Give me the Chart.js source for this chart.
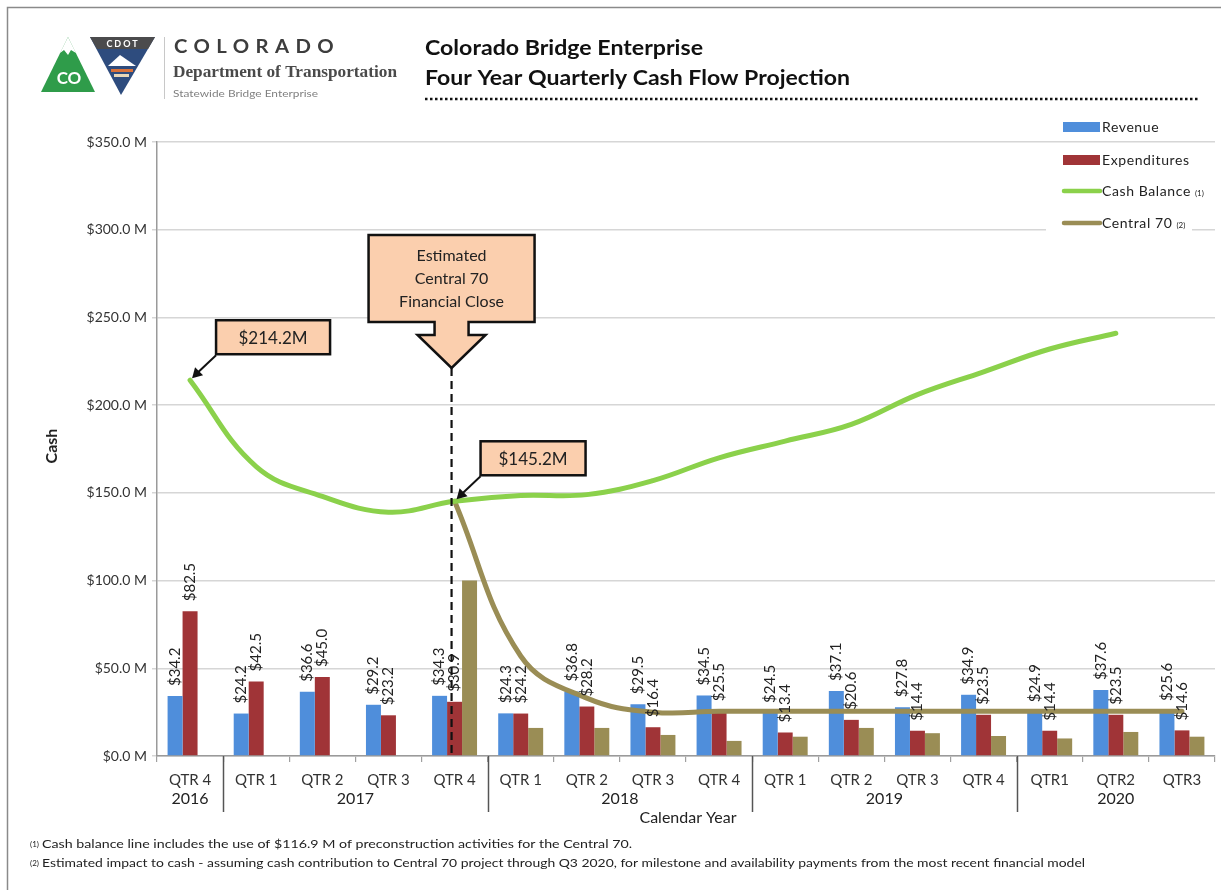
<!DOCTYPE html>
<html>
<head>
<meta charset="utf-8">
<script src="https://cdn.jsdelivr.net/npm/chart.js@4.4.0/dist/chart.umd.min.js"></script>
<style>
  body { margin: 0; background: #fff; }
  canvas { display: block; }
</style>
</head>
<body>
<canvas id="chart" width="1221" height="890"></canvas>
<script>
const quarterLabels = ["QTR 4", "QTR 1", "QTR 2", "QTR 3", "QTR 4", "QTR 1", "QTR 2", "QTR 3", "QTR 4", "QTR 1", "QTR 2", "QTR 3", "QTR 4", "QTR1", "QTR2", "QTR3"];
const yearOfQuarter = ["2016", "2017", "2017", "2017", "2017", "2018", "2018", "2018", "2018", "2019", "2019", "2019", "2019", "2020", "2020", "2020"];

const revenue = [34.2, 24.2, 36.6, 29.2, 34.3, 24.3, 36.8, 29.5, 34.5, 24.5, 37.1, 27.8, 34.9, 24.9, 37.6, 25.6];
const expenditures = [82.5, 42.5, 45.0, 23.2, 30.9, 24.2, 28.2, 16.4, 25.5, 13.4, 20.6, 14.4, 23.5, 14.4, 23.5, 14.6];
const central70Bars = [null, null, null, null, 100, 16, 16, 12, 8.6, 11, 16, 13, 11.4, 10, 13.7, 11];
const cashBalance = [214.2, 165, 148, 139, 145.2, 148.5, 149, 157, 170, 179.5, 189, 206, 219, 232, 241, null];
const central70Line = [null, null, null, null, 145.2, 57, 33, 25, 25.5, 25.5, 25.5, 25.5, 25.5, 25.5, 25.5, 25.5];

const callouts = [
  { index: 0, text: "$214.2M" },
  { index: 4, text: "$145.2M" }
];
const closeIndex = 4;
const closeText = ["Estimated", "Central 70", "Financial Close"];

const blue = "#4f8edb";
const red = "#a03437";
const green = "#8bd14b";
const olive = "#9a8d55";
const peach = "#fbcfae";
const font = "Lato, 'Open Sans', sans-serif";

// draw text squeezed/stretched to a given width
function fitText(ctx, text, x, y, width) {
  const w = ctx.measureText(text).width;
  ctx.save();
  ctx.translate(x, y);
  ctx.scale(width / w, 1);
  ctx.fillText(text, 0, 0);
  ctx.restore();
}

function drawLogo(ctx) {
  // green CO triangle
  ctx.fillStyle = "#2f9c4a";
  ctx.beginPath();
  ctx.moveTo(68, 37); ctx.lineTo(95, 92); ctx.lineTo(41, 92); ctx.closePath();
  ctx.fill();
  ctx.fillStyle = "#fff";
  ctx.beginPath();
  ctx.moveTo(68, 37); ctx.lineTo(76, 53); ctx.lineTo(71, 50); ctx.lineTo(68, 55); ctx.lineTo(64, 50); ctx.lineTo(60, 53); ctx.closePath();
  ctx.fill();
  ctx.font = "bold 17px " + font;
  ctx.textAlign = "center";
  ctx.textBaseline = "alphabetic";
  ctx.fillText("CO", 69, 84);

  // CDOT inverted triangle
  ctx.fillStyle = "#2e4c7e";
  ctx.beginPath();
  ctx.moveTo(90, 37); ctx.lineTo(155, 37); ctx.lineTo(121, 95); ctx.closePath();
  ctx.fill();
  ctx.fillStyle = "#4b4b4d";
  ctx.beginPath();
  ctx.moveTo(90, 37); ctx.lineTo(155, 37); ctx.lineTo(148, 49); ctx.lineTo(97, 49); ctx.closePath();
  ctx.fill();
  ctx.fillStyle = "#fff";
  ctx.font = "bold 9px " + font;
  ctx.save();
  ctx.letterSpacing = "2px";
  ctx.fillText("CDOT", 123, 47);
  ctx.restore();
  ctx.beginPath();
  ctx.moveTo(108, 66); ctx.lineTo(120, 55); ctx.lineTo(136, 66); ctx.closePath();
  ctx.fill();
  ctx.fillStyle = "#d9713a";
  ctx.fillRect(111, 69, 22, 3);
  ctx.fillStyle = "#e8d7b8";
  ctx.fillRect(114, 74, 15, 3);

  ctx.strokeStyle = "#c8c8c8";
  ctx.lineWidth = 1;
  ctx.beginPath();
  ctx.moveTo(164.5, 37); ctx.lineTo(164.5, 99);
  ctx.stroke();
}

const pagePlugin = {
  id: "page",
  beforeDraw(chart) {
    const ctx = chart.ctx;
    ctx.save();
    ctx.fillStyle = "#fff";
    ctx.fillRect(0, 0, chart.width, chart.height);
    ctx.strokeStyle = "#8a8a8a";
    ctx.lineWidth = 1.5;
    ctx.strokeRect(7.5, 7.5, 1400, 1000);

    drawLogo(ctx);

    ctx.textAlign = "left";
    ctx.textBaseline = "alphabetic";
    ctx.fillStyle = "#3d3d3d";
    ctx.font = "bold 19px " + font;
    ctx.letterSpacing = "6px";
    fitText(ctx, "COLORADO", 174, 53, 166);
    ctx.letterSpacing = "0px";
    ctx.fillStyle = "#4a4a4a";
    ctx.font = "bold 16px 'Liberation Serif', serif";
    fitText(ctx, "Department of Transportation", 173, 77, 224);
    ctx.fillStyle = "#808080";
    ctx.font = "10px " + font;
    fitText(ctx, "Statewide Bridge Enterprise", 173, 97, 145);

    ctx.fillStyle = "#111";
    ctx.font = "bold 20px " + font;
    fitText(ctx, "Colorado Bridge Enterprise", 425, 55, 278);
    fitText(ctx, "Four Year Quarterly Cash Flow Projection", 425, 85, 425);
    ctx.strokeStyle = "#111";
    ctx.lineWidth = 2.5;
    ctx.setLineDash([2.5, 2.5]);
    ctx.beginPath();
    ctx.moveTo(425, 99); ctx.lineTo(1200, 99);
    ctx.stroke();
    ctx.restore();
  },
  afterDatasetsDraw(chart) {
    const ctx = chart.ctx;
    const x = chart.scales.x;
    const area = chart.chartArea;
    ctx.save();

    // bar value labels
    ctx.fillStyle = "#222";
    ctx.font = "15px " + font;
    ctx.textAlign = "left";
    ctx.textBaseline = "middle";
    [2, 3].forEach((di) => {
      const meta = chart.getDatasetMeta(di);
      const values = chart.data.datasets[di].data;
      meta.data.forEach((bar, i) => {
        if (values[i] == null) return;
        ctx.save();
        ctx.translate(bar.x, bar.y - 10);
        ctx.rotate(-Math.PI / 2);
        ctx.fillText("$" + values[i].toFixed(1), 0, 0);
        ctx.restore();
      });
    });

    // financial close marker
    const cx = x.getPixelForValue(closeIndex) - 3;
    const tipY = 368;
    ctx.strokeStyle = "#111";
    ctx.lineWidth = 2.2;
    ctx.setLineDash([8, 5]);
    ctx.beginPath();
    ctx.moveTo(cx, tipY); ctx.lineTo(cx, area.bottom);
    ctx.stroke();
    ctx.setLineDash([]);

    ctx.fillStyle = peach;
    ctx.lineWidth = 2.5;
    ctx.lineJoin = "miter";
    ctx.beginPath();
    ctx.moveTo(cx - 83, 235);
    ctx.lineTo(cx + 83, 235);
    ctx.lineTo(cx + 83, 322);
    ctx.lineTo(cx + 17, 322);
    ctx.lineTo(cx + 17, 335);
    ctx.lineTo(cx + 34, 335);
    ctx.lineTo(cx, tipY);
    ctx.lineTo(cx - 34, 335);
    ctx.lineTo(cx - 17, 335);
    ctx.lineTo(cx - 17, 322);
    ctx.lineTo(cx - 83, 322);
    ctx.closePath();
    ctx.fill();
    ctx.stroke();
    ctx.fillStyle = "#222";
    ctx.font = "16px " + font;
    ctx.textAlign = "center";
    ctx.textBaseline = "middle";
    closeText.forEach((t, i) => ctx.fillText(t, cx, 256 + i * 23));

    // value callouts on the cash balance line
    const cashMeta = chart.getDatasetMeta(0);
    callouts.forEach((c) => {
      const p = cashMeta.data[c.index];
      const bx = p.x + 26;
      const by = p.y - 60;
      const bw = c.index === 0 ? 114 : 105;
      ctx.fillStyle = peach;
      ctx.strokeStyle = "#111";
      ctx.lineWidth = 2.5;
      ctx.fillRect(bx, by, bw, 34);
      ctx.strokeRect(bx, by, bw, 34);
      ctx.fillStyle = "#222";
      ctx.font = "17px " + font;
      ctx.textAlign = "center";
      ctx.fillText(c.text, bx + bw / 2, by + 18);
      // arrow
      const ex = p.x + 2;
      const ey = p.y - 2;
      ctx.lineWidth = 2;
      ctx.beginPath();
      ctx.moveTo(bx, by + 35); ctx.lineTo(ex + 6, ey - 6);
      ctx.stroke();
      ctx.fillStyle = "#111";
      ctx.beginPath();
      ctx.moveTo(ex, ey);
      ctx.lineTo(ex + 3, ey - 11);
      ctx.lineTo(ex + 11, ey - 3);
      ctx.closePath();
      ctx.fill();
    });
    ctx.restore();
  },
  afterDraw(chart) {
    const ctx = chart.ctx;
    const x = chart.scales.x;
    const area = chart.chartArea;
    ctx.save();

    // year groups under the quarter labels
    ctx.fillStyle = "#222";
    ctx.font = "16px " + font;
    ctx.textAlign = "center";
    ctx.textBaseline = "middle";
    ctx.strokeStyle = "#555";
    ctx.lineWidth = 1.5;
    let start = 0;
    for (let i = 1; i <= yearOfQuarter.length; i++) {
      if (i === yearOfQuarter.length || yearOfQuarter[i] !== yearOfQuarter[start]) {
        const mid = (x.getPixelForValue(start) + x.getPixelForValue(i - 1)) / 2;
        ctx.fillText(yearOfQuarter[start], mid, 799);
        if (i < yearOfQuarter.length) {
          const sep = Math.round((x.getPixelForValue(i - 1) + x.getPixelForValue(i)) / 2) + 0.5;
          ctx.beginPath();
          ctx.moveTo(sep, area.bottom); ctx.lineTo(sep, 812);
          ctx.stroke();
        }
        start = i;
      }
    }
    ctx.fillText("Calendar Year", (area.left + area.right) / 2 + 2, 818);

    ctx.save();
    ctx.font = "bold 16px " + font;
    ctx.translate(52, 446);
    ctx.rotate(-Math.PI / 2);
    ctx.fillText("Cash", 0, 0);
    ctx.restore();

    // legend
    ctx.fillStyle = "#fff";
    ctx.fillRect(1046, 148, 146, 84);
    const items = [
      { label: "Revenue", note: "", color: blue, box: true, y: 127 },
      { label: "Expenditures", note: "", color: red, box: true, y: 160 },
      { label: "Cash Balance", note: "(1)", color: green, box: false, y: 191 },
      { label: "Central 70", note: "(2)", color: olive, box: false, y: 223 }
    ];
    ctx.textAlign = "left";
    items.forEach((it) => {
      ctx.fillStyle = it.color;
      if (it.box) {
        ctx.fillRect(1063, it.y - 5, 37, 10);
      } else {
        ctx.strokeStyle = it.color;
        ctx.lineWidth = 4.5;
        ctx.lineCap = "round";
        ctx.beginPath();
        ctx.moveTo(1064, it.y); ctx.lineTo(1100, it.y);
        ctx.stroke();
      }
      ctx.fillStyle = "#222";
      ctx.font = "14px " + font;
      ctx.letterSpacing = "0.6px";
      ctx.fillText(it.label, 1102, it.y);
      const w = ctx.measureText(it.label).width;
      ctx.letterSpacing = "0px";
      if (it.note) {
        ctx.font = "8px " + font;
        ctx.fillText(it.note, 1102 + w + 4, it.y + 2);
      }
    });

    // footnotes
    ctx.fillStyle = "#222";
    ctx.textBaseline = "alphabetic";
    ctx.font = "8px " + font;
    ctx.fillText("(1)", 30, 847);
    ctx.fillText("(2)", 30, 866);
    ctx.font = "12px " + font;
    fitText(ctx, "Cash balance line includes the use of $116.9 M of preconstruction activities for the Central 70.", 42, 848, 590);
    fitText(ctx, "Estimated impact to cash - assuming cash contribution to Central 70 project through Q3 2020, for milestone and availability payments from the most recent financial model", 42, 867, 1043);
    ctx.restore();
  }
};

const config = {
  type: "bar",
  data: {
    labels: quarterLabels,
    datasets: [
      { type: "line", label: "Cash Balance", data: cashBalance, borderColor: green, borderWidth: 5, tension: 0.4, pointRadius: 0, borderCapStyle: "round", order: 0 },
      { type: "line", label: "Central 70", data: central70Line, borderColor: olive, borderWidth: 5, tension: 0.4, pointRadius: 0, borderCapStyle: "round", order: 0 },
      { label: "Revenue", data: revenue, backgroundColor: blue, order: 1 },
      { label: "Expenditures", data: expenditures, backgroundColor: red, order: 1 },
      { label: "Central 70 bars", data: central70Bars, backgroundColor: olive, order: 1 }
    ]
  },
  options: {
    responsive: false,
    animation: false,
    devicePixelRatio: 1,
    datasets: { bar: { categoryPercentage: 0.68, barPercentage: 1.0 } },
    layout: { padding: { top: 142, right: 6, bottom: 0, left: 0 } },
    plugins: { legend: { display: false }, tooltip: { enabled: false } },
    scales: {
      x: {
        offset: true,
        grid: { offset: true, drawOnChartArea: false, tickLength: 6, color: "#a0a0a0", lineWidth: 1.2 },
        border: { color: "#9a9a9a", width: 1.5 },
        ticks: { color: "#333", font: { family: font, size: 15 }, padding: 9, maxRotation: 0, autoSkip: false },
        afterFit(scale) { scale.height = 134; }
      },
      y: {
        min: 0,
        max: 350,
        grid: { color: "#d6d6d6", lineWidth: 1.5, tickLength: 5 },
        border: { color: "#9a9a9a", width: 1.5 },
        ticks: {
          stepSize: 50,
          padding: 5,
          color: "#333",
          font: { family: font, size: 14 },
          callback: (v) => "$" + v.toFixed(1) + " M"
        },
        afterFit(scale) { scale.width = 157; }
      }
    }
  },
  plugins: [pagePlugin]
};

window.onload = function () {
  const ctx = document.getElementById("chart").getContext("2d");
  window.chart = new Chart(ctx, config);
};
</script>
</body>
</html>
